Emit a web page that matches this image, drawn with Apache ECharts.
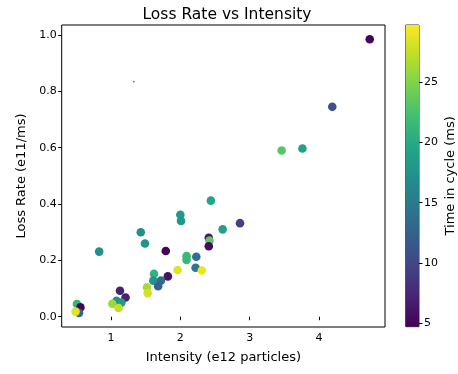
<!DOCTYPE html>
<html>
<head>
<meta charset="utf-8">
<script src="https://cdn.jsdelivr.net/npm/echarts@6/dist/echarts.min.js"></script>
<style>html,body{margin:0;padding:0;background:#fff}#c{width:458px;height:374px}</style>
</head>
<body>
<div id="c"></div>
<script>
const intensity = [4.73,4.19,3.46,3.76,2.44,2.00,2.01,1.43,1.49,2.61,2.86,0.83,1.79,2.41,2.42,2.41,2.09,2.09,2.23,2.22,1.96,2.31,1.62,1.82,1.61,1.72,1.68,1.52,1.53,1.13,1.21,1.08,1.15,1.02,1.11,0.51,0.56,0.54,0.49];
const lossRate = [0.985,0.745,0.590,0.597,0.412,0.362,0.340,0.300,0.260,0.310,0.332,0.231,0.233,0.280,0.270,0.250,0.215,0.201,0.213,0.174,0.166,0.164,0.152,0.143,0.128,0.128,0.108,0.104,0.083,0.092,0.068,0.056,0.050,0.046,0.031,0.045,0.033,0.013,0.018];
const timeInCycle = [5.0,11.0,23.0,19.0,19.5,18.0,17.5,17.0,17.5,19.0,9.5,17.0,5.0,6.0,23.5,5.5,21.5,21.5,14.0,14.5,28.5,29.0,21.0,6.0,17.5,13.5,12.5,26.5,28.0,7.0,7.0,17.0,18.0,26.0,27.5,21.0,5.0,13.0,28.5];
const strayMark = [[1.33, 0.834]];
const xTicks = [1,2,3,4];
const yTicks = [0,0.2,0.4,0.6,0.8,1.0];
const cTicks = [5,10,15,20,25];
const cMin = 4.72, cMax = 29.73;
const viridis = ['#440154','#482475','#414487','#355f8d','#2a788e','#21918c','#22a884','#44bf70','#7ad151','#bddf26','#fde725'];

const pts = intensity.map((x,i)=>[x, lossRate[i], timeInCycle[i]]);
const chart = echarts.init(document.getElementById('c'), null, {renderer:'canvas'});
const font = 'DejaVu Sans';
const gradStops = viridis.map((c,i)=>({offset:i/(viridis.length-1), color:c}));

chart.setOption({
  animation:false,
  textStyle:{fontFamily:font},
  title:{text:'Loss Rate vs Intensity', left:222, top:2, textAlign:'center',
    textStyle:{fontFamily:font, fontSize:15.5, fontWeight:'normal', color:'#000'}},
  grid:[
    {left:61.7, top:25, width:323.3, height:302, show:true, borderColor:'#000', borderWidth:1, backgroundColor:'transparent'},
    {left:405.7, top:25, width:15, height:301.7, show:true, borderColor:'#333', borderWidth:1, backgroundColor:'transparent'}
  ],
  xAxis:[
    {type:'value', gridIndex:0, min:0.29, max:4.95,
     name:'Intensity (e12 particles)', nameLocation:'middle', nameGap:24,
     nameTextStyle:{fontFamily:font, fontSize:13, color:'#000'},
     axisLine:{show:false}, splitLine:{show:false},
     axisTick:{show:true, inside:false, length:3.5, lineStyle:{color:'#000'}, customValues:xTicks},
     axisLabel:{fontFamily:font, fontSize:11, color:'#000', margin:6, customValues:xTicks, formatter:v=>String(v)}},
    {type:'category', gridIndex:1, data:['c'], show:false}
  ],
  yAxis:[
    {type:'value', gridIndex:0, min:-0.0366, max:1.0355,
     name:'Loss Rate (e11/ms)', nameLocation:'middle', nameGap:31, nameRotate:90,
     nameTextStyle:{fontFamily:font, fontSize:13, color:'#000'},
     axisLine:{show:false}, splitLine:{show:false},
     axisTick:{show:true, inside:false, length:3.5, lineStyle:{color:'#000'}, customValues:yTicks},
     axisLabel:{fontFamily:font, fontSize:11, color:'#000', margin:5, customValues:yTicks, formatter:v=>v.toFixed(1)}},
    {type:'value', gridIndex:1, min:cMin, max:cMax, position:'right',
     name:'Time in cycle (ms)', nameLocation:'middle', nameGap:25, nameRotate:90,
     nameTextStyle:{fontFamily:font, fontSize:13, color:'#000'},
     axisLine:{show:false}, splitLine:{show:false},
     axisTick:{show:true, inside:false, length:3.5, lineStyle:{color:'#000'}, customValues:cTicks},
     axisLabel:{fontFamily:font, fontSize:11, color:'#000', margin:5, customValues:cTicks, formatter:v=>String(v)}}
  ],
  visualMap:{show:false, type:'continuous', min:cMin, max:cMax, dimension:2, seriesIndex:0, inRange:{color:viridis}},
  series:[
    {type:'scatter', xAxisIndex:0, yAxisIndex:0, data:pts, symbolSize:8.6, itemStyle:{opacity:1}},
    {type:'scatter', xAxisIndex:0, yAxisIndex:0, data:strayMark, symbolSize:1.5, itemStyle:{color:'#000'}},
    {type:'bar', xAxisIndex:1, yAxisIndex:1, stack:'cb', data:[cMin], barWidth:'100%', itemStyle:{color:'transparent'}, clip:true},
    {type:'bar', xAxisIndex:1, yAxisIndex:1, stack:'cb', data:[cMax-cMin], barWidth:'100%', clip:true,
     itemStyle:{color:new echarts.graphic.LinearGradient(0,1,0,0,gradStops)}}
  ]
});
</script>
</body>
</html>
